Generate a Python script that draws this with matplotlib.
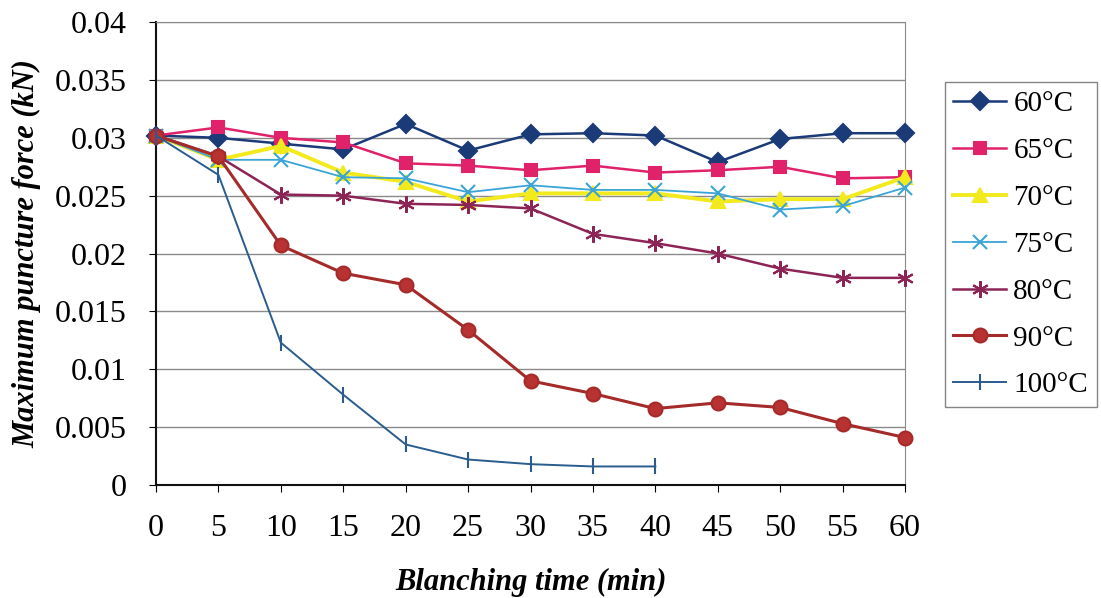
import matplotlib
matplotlib.use("Agg")
import matplotlib.pyplot as plt

plt.rcParams["font.family"] = ["Liberation Serif", "DejaVu Serif"]

# blanching time (min)
times = [0, 5, 10, 15, 20, 25, 30, 35, 40, 45, 50, 55, 60]
times_100 = [0, 5, 10, 15, 20, 25, 30, 35, 40]

# maximum puncture force (kN)
f_60 = [0.0302, 0.0300, 0.0295, 0.0290, 0.0312, 0.0289, 0.0303, 0.0304, 0.0302, 0.0279, 0.0299, 0.0304, 0.0304]
f_65 = [0.0302, 0.0309, 0.0300, 0.0296, 0.0278, 0.0276, 0.0272, 0.0276, 0.0270, 0.0272, 0.0275, 0.0265, 0.0266]
f_70 = [0.0302, 0.0281, 0.0293, 0.0270, 0.0262, 0.0245, 0.0252, 0.0252, 0.0252, 0.0245, 0.0247, 0.0247, 0.0266]
f_75 = [0.0302, 0.0281, 0.0281, 0.0266, 0.0265, 0.0253, 0.0259, 0.0255, 0.0255, 0.0252, 0.0238, 0.0241, 0.0257]
f_80 = [0.0302, 0.0284, 0.0251, 0.0250, 0.0243, 0.0242, 0.0239, 0.0217, 0.0209, 0.0200, 0.0187, 0.0179, 0.0179]
f_90 = [0.0302, 0.0284, 0.0207, 0.0183, 0.0173, 0.0134, 0.0090, 0.0079, 0.0066, 0.0071, 0.0067, 0.0053, 0.0041]
f_100 = [0.0302, 0.0268, 0.0123, 0.0078, 0.0035, 0.0022, 0.0018, 0.0016, 0.0016]

series = [
    ("60°C", times, f_60, "#1b3a78", "D", 9, 1.8, "#1b3a78"),
    ("65°C", times, f_65, "#e0226b", "s", 9, 1.8, "#e0226b"),
    ("70°C", times, f_70, "#f2ea1c", "^", 10, 2.8, "#f2ea1c"),
    ("75°C", times, f_75, "#3ba4d6", "x", 10, 1.3, "#3ba4d6"),
    ("80°C", times, f_80, "#8c2456", (6, 2, 0), 12, 1.8, "#8c2456"),
    ("90°C", times, f_90, "#a52a2a", "o", 10, 2.2, "#b83232"),
    ("100°C", times_100, f_100, "#2a5c8e", "|", 12, 1.4, "#2a5c8e"),
]

fig = plt.figure(figsize=(11.01, 5.98), dpi=100)
ax = fig.add_axes([0.1417, 0.189, 0.6803, 0.774])

for label, x, y, color, marker, ms, lw, mfc in series:
    ax.plot(x, y, color=color, marker=marker, markersize=ms, linewidth=lw,
            markerfacecolor=mfc, markeredgecolor=color, markeredgewidth=1.5,
            label=label, clip_on=False, zorder=3)

ax.set_xlim(0, 60)
ax.set_ylim(0, 0.04)
ax.set_xticks(times)
ax.set_xticklabels([str(t) for t in times])
ax.set_yticks([0, 0.005, 0.01, 0.015, 0.02, 0.025, 0.03, 0.035, 0.04])
ax.set_yticklabels(["0", "0.005", "0.01", "0.015", "0.02", "0.025", "0.03", "0.035", "0.04"])
ax.tick_params(axis="x", labelsize=23, pad=16, length=5, direction="out")
ax.tick_params(axis="y", labelsize=23, pad=16, length=5, direction="out")

ax.grid(True, axis="y", color="#8a8a8a", linewidth=1.0)
ax.set_axisbelow(True)
ax.spines["left"].set_color("#111111")
ax.spines["bottom"].set_color("#111111")
ax.spines["left"].set_linewidth(1.5)
ax.spines["bottom"].set_linewidth(1.5)
ax.spines["top"].set_color("#8a8a8a")
ax.spines["right"].set_color("#8a8a8a")

ax.set_xlabel("Blanching time (min)", fontsize=22, fontweight="bold", style="italic", labelpad=18)
ax.set_ylabel("Maximum puncture force (kN)", fontsize=22, fontweight="bold", style="italic", labelpad=10)

leg = ax.legend(loc="upper left", bbox_to_anchor=(1.053, 0.870), fontsize=21,
                handlelength=1.8, labelspacing=0.7, handletextpad=0.25,
                borderpad=0.3, borderaxespad=0, frameon=True, fancybox=False)
leg.get_frame().set_edgecolor("#666666")
leg.get_frame().set_linewidth(1.0)

fig.savefig("out.png", dpi=100)
